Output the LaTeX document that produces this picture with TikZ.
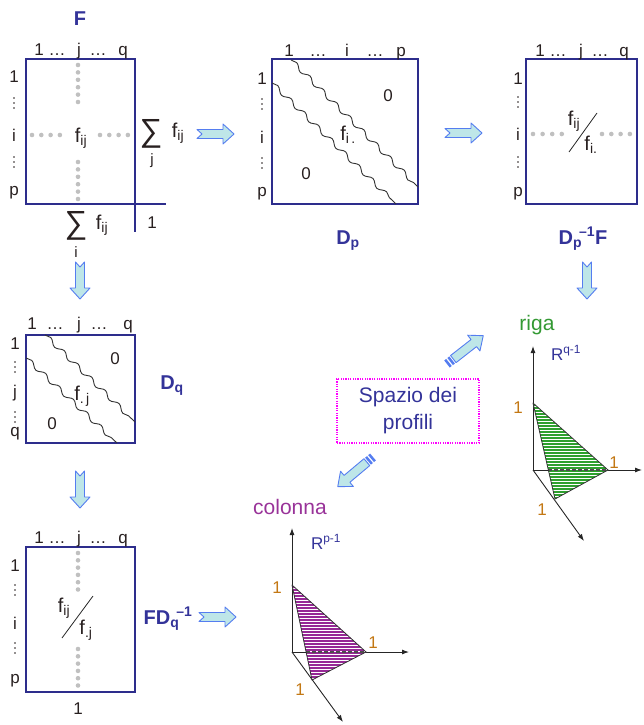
\documentclass[tikz,border=0pt]{standalone}
\usepackage{fontspec}
\setmainfont{Liberation Sans}
\usepackage{tikz}
\usetikzlibrary{arrows.meta, decorations.pathmorphing}

\definecolor{matblue}{RGB}{45,45,140}
\definecolor{navy}{RGB}{51,51,153}
\definecolor{txt}{RGB}{40,32,32}
\definecolor{dotgray}{RGB}{192,192,192}
\definecolor{arrowfill}{RGB}{190,230,232}
\definecolor{arrowline}{RGB}{85,125,240}
\definecolor{boxpink}{RGB}{255,0,255}
\definecolor{rigagreen}{RGB}{51,153,51}
\definecolor{hatchg}{RGB}{45,160,45}
\definecolor{colpurple}{RGB}{153,51,153}
\definecolor{hatchp}{RGB}{150,40,150}
\definecolor{oneorange}{RGB}{195,120,20}

% small vertical dots next to the row labels
\newcommand{\rowdots}[2]{\foreach \k in {0,1,2} \fill[txt] (#1,#2+5*\k) circle (0.8);}

\tikzset{
  lbl/.style={font=\fontsize{17}{20}\selectfont, text=txt, inner sep=0pt, text height=12.2pt, text depth=0pt},
  fsym/.style={font=\fontsize{20}{22}\selectfont, text=txt, inner sep=0pt, text height=14.5pt, text depth=0pt},
  sumsym/.style={font=\fontsize{32}{34}\selectfont, text=txt, inner sep=0pt},
  title/.style={font=\fontsize{20}{23}\selectfont\bfseries, text=navy, inner sep=0pt, text height=14.3pt, text depth=0pt},
  big/.style={font=\fontsize{21}{27}\selectfont, inner sep=0pt},
  one/.style={font=\fontsize{17}{20}\selectfont, text=oneorange, inner sep=0pt},
  mat/.style={draw=matblue, line width=1.2pt, inner sep=0pt, outer sep=0pt},
  wavy/.style={draw=black!80, line width=0.9pt, decorate, decoration={snake, segment length=19pt, amplitude=2.2pt}},
  gdot/.style={fill=dotgray},
  axis/.style={draw=black!85, line width=0.9pt, -{Latex[length=7pt,width=5pt]}},
  edge/.style={draw=black!80, line width=0.8pt, line join=round},
  hidden/.style={draw=black!70, line width=1.2pt, dash pattern=on 4pt off 2pt},
  notcharrow/.pic={
    \draw[arrowline, fill=arrowfill, line width=0.9pt, line join=round]
      (0,-4.5) -- (26,-4.5) -- (26,-10) -- (37,0) -- (26,10) -- (26,4.5) -- (0,4.5) -- (5,0) -- cycle;
  },
  stripearrow/.pic={
    \fill[arrowline] (0,-4.5) rectangle (2.5,4.5);
    \fill[arrowline] (4,-4.5) rectangle (6.5,4.5);
    \draw[arrowline, fill=arrowfill, line width=0.9pt, line join=round]
      (8,-4.5) -- (34,-4.5) -- (34,-10) -- (46,0) -- (34,10) -- (34,4.5) -- (8,4.5) -- cycle;
  }
}

\begin{document}
\begin{tikzpicture}[x=1pt, y=-1pt]
  \useasboundingbox (0,0) rectangle (643,725);

  % ---- F
  \node[title] (Flbl) at (80,18) {F};
  \node[mat, minimum width=109, minimum height=145] (F) at (80.5,131.5) {};
  \draw[matblue, line width=1.2pt] (F.south east) -- ++(31,0);
  \draw[matblue, line width=1.2pt] (F.south east) -- ++(0,28);
  \foreach \t/\x [count=\n] in {1/39, …/57, j/79, …/98, q/123}
    \node[lbl] (Fc\n) at (\x,49) {\t};
  \node[lbl] (Fr1) at (14,76) {1};
  \node[lbl] (Fri) at (14,135) {i};
  \node[lbl] (Frp) at (14,189) {p};
  \rowdots{14}{98}
  \rowdots{14}{157}
  \foreach \k in {0,...,5} {
    \fill[gdot] (78,65+7.4*\k) circle (2.3);
    \fill[gdot] (78,162+7.4*\k) circle (2.3);
  }
  \foreach \k in {0,...,3} {
    \fill[gdot] (32+9.3*\k,135) circle (2.3);
    \fill[gdot] (100+9.3*\k,135) circle (2.3);
  }
  \node[fsym] (Ffij) at (81,135) {f\textsubscript{ij}};
  \node[sumsym] (sumj) at (151,134) {∑};
  \node[lbl, font=\fontsize{15}{17}\selectfont] (sumjidx) at (152,158) {j};
  \node[fsym] (sumjf) at (178,130) {f\textsubscript{ij}};
  \node[sumsym] (sumi) at (76,226) {∑};
  \node[lbl, font=\fontsize{15}{17}\selectfont] (sumiidx) at (76,251) {i};
  \node[fsym] (sumif) at (102,222) {f\textsubscript{ij}};
  \node[lbl] (Fone) at (152,222) {1};

  % ---- D_p
  \node[mat, minimum width=146, minimum height=145] (Dp) at (345,131.5) {};
  \foreach \t/\x [count=\n] in {1/289, …/318, i/347, …/375, p/401}
    \node[lbl] (Dpc\n) at (\x,50) {\t};
  \node[lbl] (Dpr1) at (262,78) {1};
  \node[lbl] (Dpri) at (262,137) {i};
  \node[lbl] (Dprp) at (262,190) {p};
  \rowdots{262}{99}
  \rowdots{262}{158}
  \draw[wavy] (291,60) -- (418,187);
  \draw[wavy] (272,83) -- (396,204);
  \node[lbl] (Dpz1) at (388,95) {0};
  \node[fsym] (Dpfi) at (348,133) {f\textsubscript{i\,.}};
  \node[lbl] (Dpz2) at (306,173) {0};
  \node[title] (Dplbl) at (348,237) {D\textsubscript{p}};

  % ---- D_p^{-1} F
  \node[mat, minimum width=111, minimum height=145] (DpF) at (581.5,131.5) {};
  \foreach \t/\x [count=\n] in {1/540, …/558, j/581, …/600, q/624}
    \node[lbl] (DpFc\n) at (\x,50) {\t};
  \node[lbl] (DpFr1) at (518,78) {1};
  \node[lbl] (DpFri) at (518,134) {i};
  \node[lbl] (DpFrp) at (518,190) {p};
  \rowdots{518}{97}
  \rowdots{518}{157}
  \foreach \k in {0,...,3} {
    \fill[gdot] (533+9.6*\k,134) circle (2.3);
    \fill[gdot] (602+9.3*\k,134) circle (2.3);
  }
  \draw[black!85, line width=0.8pt] (569,152) -- (597,113);
  \node[fsym] (DpFfij) at (574,118) {f\textsubscript{ij}};
  \node[fsym] (DpFfi) at (591,143) {f\textsubscript{i.}};
  \node[title] (DpFlbl) at (583,237) {D\textsubscript{p}\kern-3pt\textsuperscript{–1}F};

  % ---- D_q
  \node[mat, minimum width=109, minimum height=108] (Dq) at (80.5,389) {};
  \foreach \t/\x [count=\n] in {1/32, …/55, j/79, …/99, q/128}
    \node[lbl] (Dqc\n) at (\x,323) {\t};
  \node[lbl] (Dqr1) at (15,343) {1};
  \node[lbl] (Dqrj) at (15,391) {j};
  \node[lbl] (Dqrq) at (15,430) {q};
  \rowdots{15}{362}
  \rowdots{15}{412}
  \draw[wavy] (45,335) -- (135,422);
  \draw[wavy] (26,358) -- (117,443);
  \node[lbl] (Dqz1) at (115,358) {0};
  \node[fsym] (Dqfj) at (82,393) {f\textsubscript{.\,j}};
  \node[lbl] (Dqz2) at (52,423) {0};
  \node[title] (Dqlbl) at (172,382) {D\textsubscript{q}};

  % ---- F D_q^{-1}
  \node[mat, minimum width=109, minimum height=145] (FDq) at (80.5,619.5) {};
  \foreach \t/\x [count=\n] in {1/39, …/57, j/79, …/98, q/123}
    \node[lbl] (FDqc\n) at (\x,537) {\t};
  \node[lbl] (FDqr1) at (15,565) {1};
  \node[lbl] (FDqri) at (15,623) {i};
  \node[lbl] (FDqrp) at (15,677) {p};
  \rowdots{15}{585}
  \rowdots{15}{643}
  \foreach \k in {0,...,5} {
    \fill[gdot] (78,553+7.3*\k) circle (2.3);
    \fill[gdot] (78,649+7.3*\k) circle (2.3);
  }
  \draw[black!85, line width=0.8pt] (62,638) -- (93,596);
  \node[fsym] (FDqfij) at (64,605) {f\textsubscript{ij}};
  \node[fsym] (FDqfj) at (86,627) {f\textsubscript{.j}};
  \node[lbl] (FDqone) at (78,708) {1};
  \node[title] (FDqlbl) at (168,617) {FD\textsubscript{q}\kern-3pt\textsuperscript{–1}};

  % ---- block arrows
  \pic at (197,134) {notcharrow};
  \pic at (445,133) {notcharrow};
  \pic[rotate=-90] at (80,262) {notcharrow};
  \pic[rotate=-90] at (587,262) {notcharrow};
  \pic[rotate=-90] at (80,471) {notcharrow};
  \pic at (199,617) {notcharrow};
  \pic[rotate=38] at (447,364) {stripearrow};
  \pic[rotate=220] at (373,457) {stripearrow};

  % ---- profile space
  \node[big, text=navy, align=center, draw=boxpink, line width=1.5pt,
        dash pattern=on 1.2pt off 1.2pt, minimum width=142, minimum height=64]
    (spazio) at (408,411) {Spazio dei\\profili};

  % ---- riga simplex
  \node[big, text=rigagreen] (riga) at (537,325) {riga};
  \coordinate (rO) at (533,470);
  \coordinate (rA) at (533,403);
  \coordinate (rB) at (608,470);
  \coordinate (rC) at (555,499);
  \coordinate (rX) at (548,470);
  \draw[axis] (rO) -- (533,346);
  \draw[axis] (rO) -- (642,470);
  \draw[axis] (rO) -- (584,541);
  \fill[white] (rA) -- (rB) -- (rC) -- cycle;
  \begin{scope}
    \clip (rA) -- (rB) -- (rC) -- cycle;
    \foreach \y in {402,405,...,501} \draw[hatchg, line width=1.8pt] (530,\y) -- (612,\y);
  \end{scope}
  \draw[hidden] (rX) -- (rB);
  \draw[edge] (rA) -- (rB) -- (rC) -- cycle;
  \node[font=\fontsize{17}{20}\selectfont, text=navy, inner sep=0pt] (Rq) at (566,353) {R\textsuperscript{q-1}};
  \node[one] (rone1) at (518,408) {1};
  \node[one] (rone2) at (614,463) {1};
  \node[one] (rone3) at (542,510) {1};

  % ---- colonna simplex
  \node[big, text=colpurple] (colonna) at (290,507) {colonna};
  \coordinate (cO) at (292,652);
  \coordinate (cA) at (292,585);
  \coordinate (cB) at (366,652);
  \coordinate (cC) at (312,680);
  \coordinate (cX) at (306,652);
  \draw[axis] (cO) -- (292,528);
  \draw[axis] (cO) -- (409,652);
  \draw[axis] (cO) -- (343,722);
  \fill[white] (cA) -- (cB) -- (cC) -- cycle;
  \begin{scope}
    \clip (cA) -- (cB) -- (cC) -- cycle;
    \foreach \y in {584,587,...,683} \draw[hatchp, line width=1.8pt] (289,\y) -- (370,\y);
  \end{scope}
  \draw[hidden] (cX) -- (cB);
  \draw[edge] (cA) -- (cB) -- (cC) -- cycle;
  \node[font=\fontsize{17}{20}\selectfont, text=navy, inner sep=0pt] (Rp) at (326,542) {R\textsuperscript{p-1}};
  \node[one] (cone1) at (277,588) {1};
  \node[one] (cone2) at (373,643) {1};
  \node[one] (cone3) at (300,690) {1};
\end{tikzpicture}
\end{document}
